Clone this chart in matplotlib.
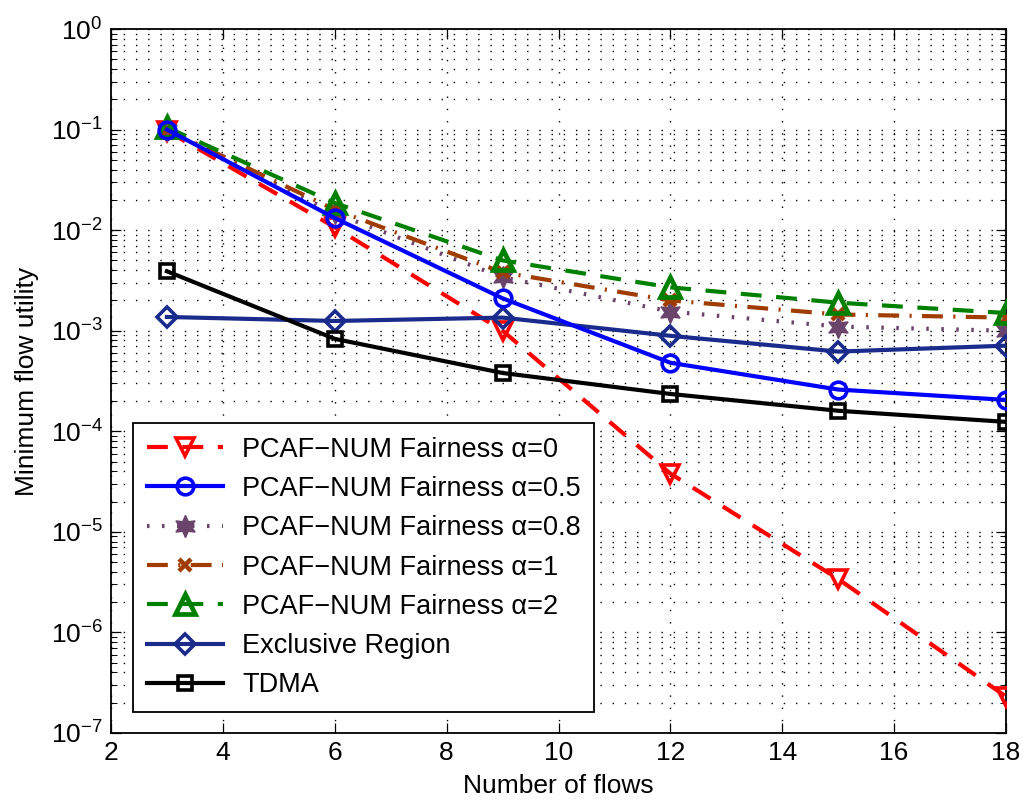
"""
Minimum flow utility vs. number of flows (PCAF-NUM fairness comparison).
"""

import matplotlib
matplotlib.use("Agg")
import matplotlib.pyplot as plt
from matplotlib.ticker import LogLocator, NullFormatter


plt.rcParams["font.family"] = ["Liberation Sans", "DejaVu Sans"]
plt.rcParams["mathtext.fontset"] = "custom"
plt.rcParams["mathtext.rm"] = "Liberation Sans"
plt.rcParams["mathtext.default"] = "regular"

# data
flows = [3, 6, 9, 12, 15, 18]
alpha_0 = [0.097, 0.0107, 1.0e-3, 3.8e-5, 3.4e-6, 2.3e-7]
alpha_05 = [0.1, 0.0132, 2.1e-3, 4.8e-4, 2.6e-4, 2.05e-4]
alpha_08 = [0.1, 0.0147, 3.4e-3, 1.55e-3, 1.1e-3, 1.0e-3]
alpha_1 = [0.1, 0.016, 3.8e-3, 2.0e-3, 1.45e-3, 1.35e-3]
alpha_2 = [0.105, 0.0186, 5.0e-3, 2.7e-3, 1.9e-3, 1.5e-3]
exclusive = [1.37e-3, 1.25e-3, 1.35e-3, 8.9e-4, 6.2e-4, 7.1e-4]
tdma = [3.9e-3, 8.3e-4, 3.8e-4, 2.35e-4, 1.6e-4, 1.24e-4]

labels = [
    "PCAF\u2212NUM Fairness \u03b1=0",
    "PCAF\u2212NUM Fairness \u03b1=0.5",
    "PCAF\u2212NUM Fairness \u03b1=0.8",
    "PCAF\u2212NUM Fairness \u03b1=1",
    "PCAF\u2212NUM Fairness \u03b1=2",
    "Exclusive Region",
    "TDMA",
]


def main():
    fig = plt.figure(figsize=(10.26, 8.06), dpi=100, facecolor="white")
    ax = fig.add_axes([0.1082, 0.0906, 0.8723, 0.8734])

    lw = 3.0
    mew = 2.6
    ax.plot(flows, alpha_0, color="#ff0000", ls=(0, (5, 3.5)), lw=lw, marker="v",
            ms=13, mfc="none", mew=mew, label=labels[0], zorder=3)
    ax.plot(flows, alpha_05, color="#0000ff", ls="-", lw=lw, marker="o",
            ms=12, mfc="none", mew=mew, label=labels[1], zorder=4)
    ax.plot(flows, alpha_08, color="#6a446a", ls=(0, (0.6, 3)), lw=lw, marker=(6, 1, 0),
            ms=16, mfc="#6a446a", mew=1.0, label=labels[2], zorder=3)
    ax.plot(flows, alpha_1, color="#a03c00", ls=(0, (5, 2.5, 0.5, 2.5)), lw=lw, marker="x",
            ms=8, mew=mew + 0.6, label=labels[3], zorder=3)
    ax.plot(flows, alpha_2, color="#008000", ls=(0, (5, 3.5)), lw=lw, marker="^",
            ms=14, mfc="none", mew=mew + 0.8, label=labels[4], zorder=3)
    ax.plot(flows, exclusive, color="#1a2b8c", ls="-", lw=lw, marker="D",
            ms=10, mfc="none", mew=mew, label=labels[5], zorder=3)
    ax.plot(flows, tdma, color="black", ls="-", lw=lw, marker="s",
            ms=10, mfc="none", mew=mew, label=labels[6], zorder=3)

    ax.set_yscale("log")
    ax.set_xlim(2, 18)
    ax.set_ylim(1e-7, 1)
    ax.set_xticks(range(2, 19, 2))
    ax.yaxis.set_major_locator(LogLocator(base=10, numticks=10))
    ax.yaxis.set_minor_locator(LogLocator(base=10, subs=range(2, 10), numticks=20))
    ax.yaxis.set_minor_formatter(NullFormatter())

    # MATLAB style dotted grid
    ax.grid(True, which="major", axis="both", ls=(0, (1, 7.8)), color="black", lw=1.0)
    ax.grid(True, which="minor", axis="y", ls=(0, (1, 7.8)), color="black", lw=1.0)

    ax.tick_params(which="both", direction="in", top=True, right=True, labelsize=19)
    ax.tick_params(which="major", length=7, width=0.9, pad=6)
    ax.tick_params(which="minor", length=4, width=0.7)
    for spine in ax.spines.values():
        spine.set_linewidth(1.3)

    ax.set_xlabel("Number of flows", fontsize=19, labelpad=6)
    ax.set_ylabel("Minimum flow utility", fontsize=19, labelpad=8)

    leg = ax.legend(loc="lower left", bbox_to_anchor=(0.025, 0.03), fontsize=19.5,
                    fancybox=False, framealpha=1, edgecolor="black",
                    handlelength=2.8, handletextpad=0.72, labelspacing=0.49,
                    borderpad=0.5, borderaxespad=0.0)
    leg.get_frame().set_linewidth(1.3)

    fig.savefig("out.png", dpi=100, facecolor="white")
    plt.close(fig)


if __name__ == "__main__":
    main()
